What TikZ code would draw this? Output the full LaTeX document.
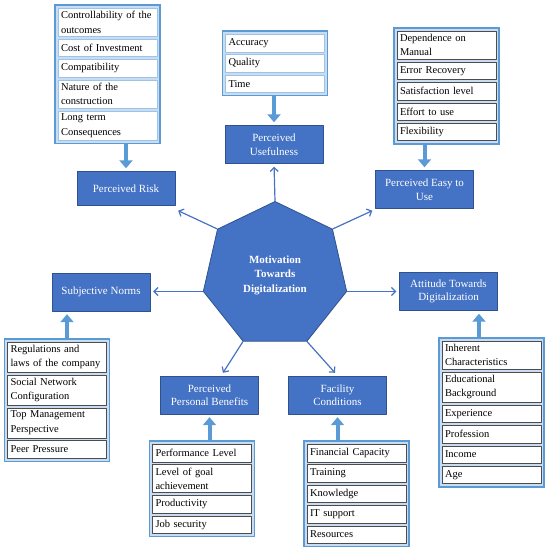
\documentclass[tikz,border=0pt]{standalone}
\usepackage{fontspec}
\setmainfont{Liberation Serif}
\usetikzlibrary{positioning,shapes.geometric,arrows.meta,fit,backgrounds}
\definecolor{boxblue}{HTML}{4472C4}
\definecolor{boxrim}{HTML}{2F528F}
\definecolor{fatblue}{HTML}{5B9BD5}
\definecolor{framefill}{HTML}{C9DCF1}
\definecolor{lightrim}{HTML}{9DC3E6}
\begin{document}
\begin{tikzpicture}[line join = round, line cap = round, x=1pt, y=-1pt,
	mainbox/.style={draw=boxrim, fill=boxblue, text=white, align=center, minimum width=98pt, minimum height=38pt, inner sep=2pt, font=\fontsize{11}{13.5}\selectfont},
	item/.style={draw=gray!60!black, fill=white, text width=93pt, align=left, inner xsep=3pt, inner ysep=3pt, minimum height=17.5pt, font=\fontsize{10.5}{14.5}\selectfont},
	frame/.style={draw=fatblue, line width=1.5pt, fill=framefill, inner sep=3pt},
	thin/.style={draw=boxblue, line width=1.2pt, -{Straight Barb[length=4pt,width=8pt]}},
	fat/.style={draw=fatblue, line width=4pt, line cap=butt, shorten >=3pt, -{Triangle[length=8pt,width=13pt]}}]
	\useasboundingbox (0,0) rectangle (547,550);
	%Khối một danh sách: tên, đỉnh giữa, các mục, số mục
	\def\stack#1#2#3#4{
		\foreach \t [count=\i] in {#3}{
			\ifnum\i=1 \node[item, anchor=north] (#11) at (#2) {\t};
			\else \pgfmathtruncatemacro\j{\i-1}\node[item, below=2.5pt of #1\j] (#1\i) {\t};\fi
		}
		\begin{scope}[on background layer]
			\node[frame, fit=(#11)(#1#4)] (#1f) {};
		\end{scope}
	}
	%Hình bảy cạnh ở giữa
	\node[regular polygon, regular polygon sides=7, minimum size=147pt, inner sep=0pt, draw=boxrim, line width=0.8pt, fill=boxblue, text=white, align=center, font=\fontsize{11}{14.5}\selectfont\bfseries] (hept) at (275,275) {Motivation\\Towards\\Digitalization};
	%Các khối chính
	\node[mainbox, minimum height=34pt] (risk) at (126,188.5) {Perceived Risk};
	\node[mainbox] (use) at (274,144.5) {Perceived\\Usefulness};
	\node[mainbox] (easy) at (424.5,189.5) {Perceived Easy to\\Use};
	\node[mainbox] (norms) at (101,292) {Subjective Norms};
	\node[mainbox] (att) at (448.5,291.5) {Attitude Towards\\Digitalization};
	\node[mainbox] (ben) at (209.5,395) {Perceived\\Personal Benefits};
	\node[mainbox] (fac) at (337.5,395) {Facility\\Conditions};
	%Các danh sách
	\begin{scope}[item/.append style={draw=lightrim}]
		\stack{r}{107.5,8}{{Controllability of the\\outcomes}, Cost of Investment, Compatibility, {Nature of the\\construction}, {Long term\\Consequences}}{5}
		\stack{u}{275,34}{Accuracy, Quality, Time}{3}
	\end{scope}
	\stack{e}{446.5,31}{{Dependence on\\Manual}, Error Recovery, Satisfaction level, Effort to use, Flexibility}{5}
	\stack{n}{57,342}{{Regulations and\\laws of the company}, {Social Network\\Configuration}, {Top Management\\Perspective}, Peer Pressure}{4}
	\stack{a}{491.5,341}{{Inherent\\Characteristics}, {Educational\\Background}, Experience, Profession, Income, Age}{6}
	\stack{b}{202,444}{Performance Level, {Level of goal\\achievement}, Productivity, Job security}{4}
	\stack{f}{356.5,444}{Financial Capacity, Training, Knowledge, IT support, Resources}{5}
	%Mũi tên đậm từ danh sách
	\draw[fat] (risk.north |- rf.south) -- (risk.north);
	\draw[fat] (use.north |- uf.south) -- (use.north);
	\draw[fat] (easy.north |- ef.south) -- (easy.north);
	\draw[fat] ([xshift=10pt]nf.north) -- ([xshift=10pt]nf.north |- norms.south);
	\draw[fat] ([xshift=-12.5pt]af.north) -- ([xshift=-12.5pt]af.north |- att.south);
	\draw[fat] (ben.south |- bf.north) -- (ben.south);
	\draw[fat] (fac.south |- ff.north) -- (fac.south);
	%Mũi tên mảnh từ hình bảy cạnh
	\draw[thin, shorten >=3pt] (hept.corner 1) -- (use.south);
	\draw[thin] (hept.corner 2) -- ([shift={(3,5)}]risk.south east);
	\draw[thin] (hept.corner 7) -- ([shift={(-3,2)}]easy.south west);
	\draw[thin, shorten >=3pt] (hept.corner 3) -- (hept.corner 3 -| norms.east);
	\draw[thin, shorten >=3pt] (hept.corner 6) -- (hept.corner 6 -| att.west);
	\draw[thin] (hept.corner 4) -- ([shift={(13.5,-3)}]ben.north);
	\draw[thin] (hept.corner 5) -- ([shift={(-2.5,-3)}]fac.north);
\end{tikzpicture}
\end{document}
